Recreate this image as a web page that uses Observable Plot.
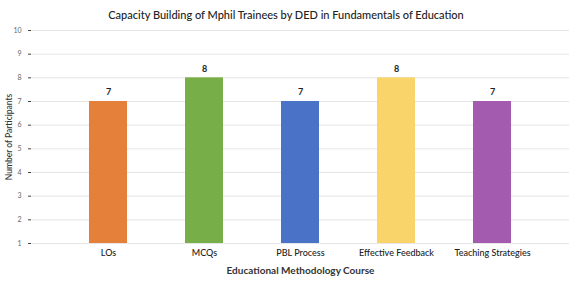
<!DOCTYPE html>
<html>
<head>
<meta charset="utf-8">
<script src="https://cdn.jsdelivr.net/npm/d3@7"></script>
<script src="https://cdn.jsdelivr.net/npm/@observablehq/plot@0.6"></script>
<style>
  body { margin: 0; background: #fff; font-family: Lato, "Open Sans", sans-serif; }
  #title { width: 572px; height: 24px; line-height: 30px; text-align: center; font-size: 11px; color: #222; font-weight: 500; }
</style>
</head>
<body>
<div id="title">Capacity Building of Mphil Trainees by DED in Fundamentals of Education</div>
<div id="chart"></div>
<script>
const courses = ["LOs", "MCQs", "PBL Process", "Effective Feedback", "Teaching Strategies"];
const participants = [7, 8, 7, 8, 7];
const colors = ["#E5803A", "#78AE48", "#4A72C6", "#F9D46A", "#A35BB0"];
const yTicks = [1, 2, 3, 4, 5, 6, 7, 8, 9, 10];

const data = courses.map((c, i) => ({course: c, value: participants[i], base: 1}));

const chart = Plot.plot({
  width: 572,
  height: 260,
  marginTop: 6,
  marginBottom: 41,
  marginLeft: 31,
  marginRight: 3,
  style: {fontFamily: "Lato, 'Open Sans', sans-serif", fontSize: "8px", color: "#444"},
  x: {domain: courses, padding: 0.6, label: null, tickSize: 0, tickPadding: 6},
  y: {domain: [1, 10], ticks: yTicks, label: null, tickSize: 3, tickPadding: 7, tickFormat: d3.format("d")},
  color: {domain: courses, range: colors},
  marks: [
    Plot.gridY(yTicks, {stroke: "#e6e6e6", strokeOpacity: 1}),
    Plot.barY(data, {x: "course", y1: "base", y2: "value", fill: "course"}),
    Plot.text(data, {x: "course", y: "value", text: d => String(d.value), dy: -9, fontWeight: "bold", fontSize: 9, fill: "#222"}),
    Plot.axisX({tickSize: 0, tickPadding: 6, fontSize: 9, fill: "#222", fontWeight: 500, label: null}),
    Plot.axisY({ticks: yTicks, tickSize: 3, tickPadding: 7, fontSize: 7, fill: "#666", label: null}),
    Plot.text(["Educational Methodology Course"], {frameAnchor: "bottom", dy: 30, fontSize: 10, fontWeight: "bold", fill: "#333"}),
    Plot.text(["Number of Participants"], {frameAnchor: "left", textAnchor: "middle", dx: -22, rotate: -90, fontSize: 8.5, fontWeight: 500, fill: "#333"})
  ]
});
document.getElementById("chart").appendChild(chart);
</script>
</body>
</html>
